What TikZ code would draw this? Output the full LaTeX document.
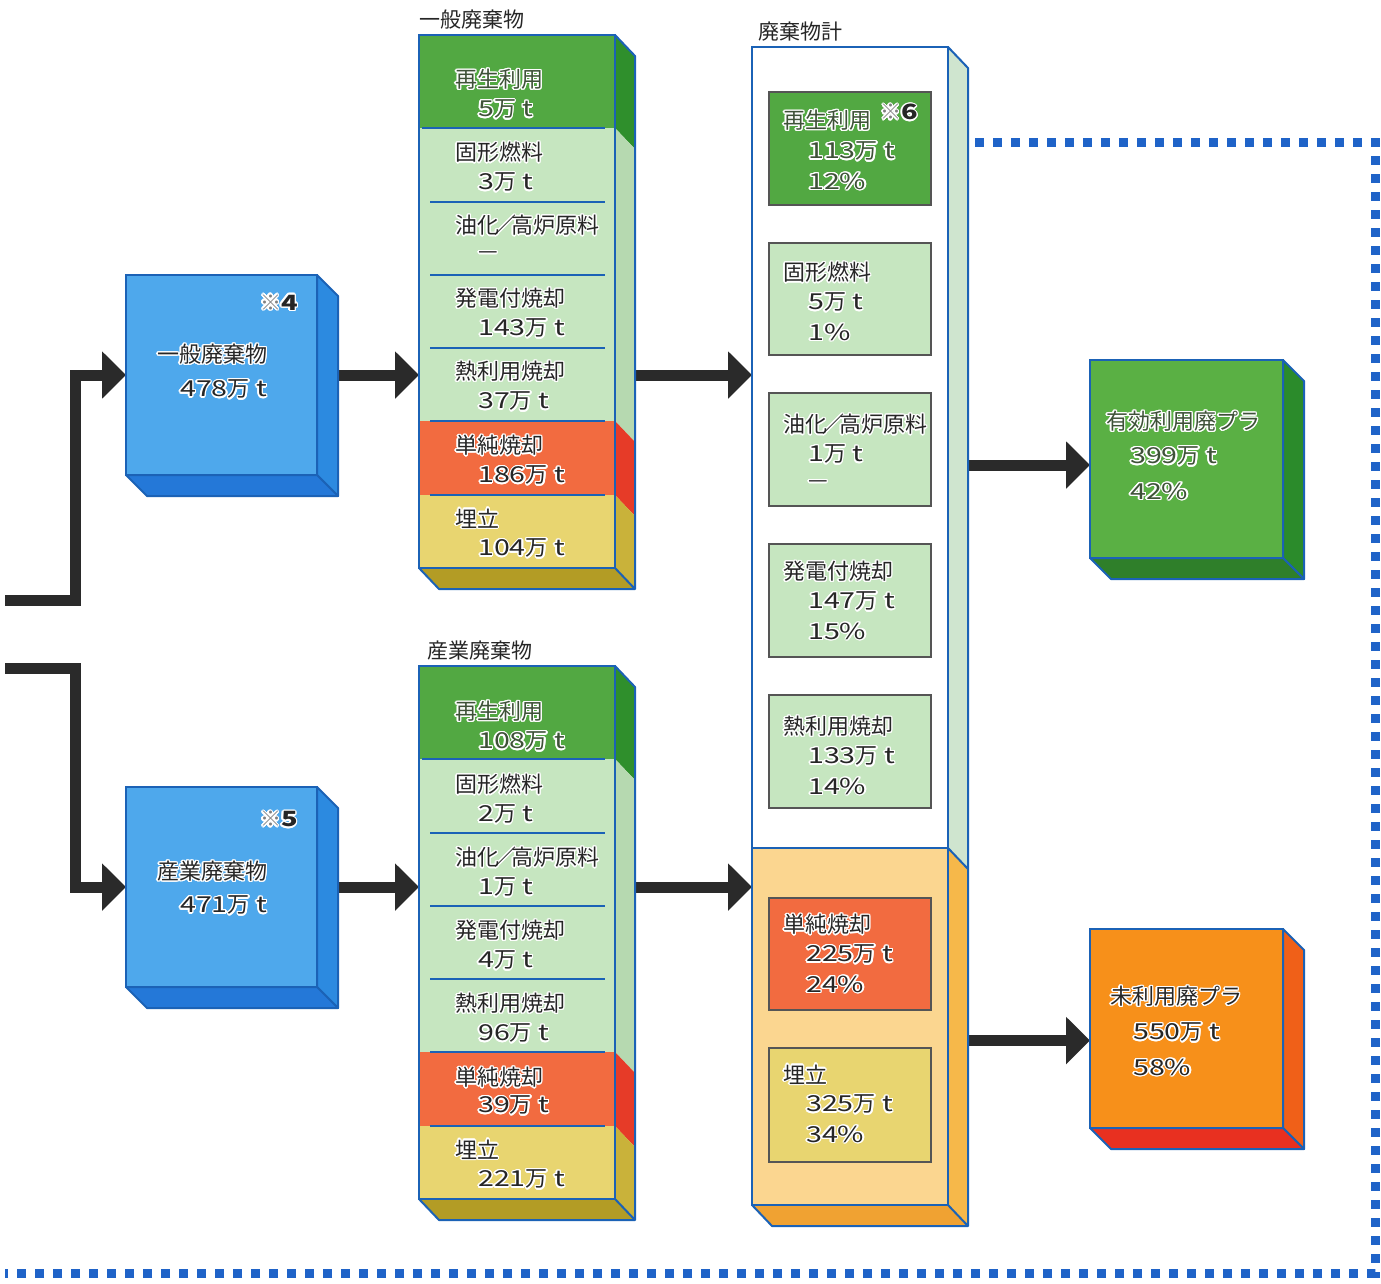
\documentclass[tikz,border=0pt]{standalone}
\usepackage{fontspec}
\setmainfont{Noto Sans CJK JP}
\newfontfamily\widefont{Noto Sans CJK JP}[FakeStretch=1.3]
\usepackage{contour}
\contourlength{1.3pt}
\usetikzlibrary{arrows.meta,calc,backgrounds}
\definecolor{frameblue}{HTML}{1B62B6}
\definecolor{dgreen}{HTML}{52A842}
\definecolor{dgreenS}{HTML}{2F8F2C}
\definecolor{lgreen}{HTML}{C6E6C0}
\definecolor{lgreenS}{HTML}{B6D9B0}
\definecolor{redf}{HTML}{F26B40}
\definecolor{redS}{HTML}{E63B28}
\definecolor{yelf}{HTML}{E8D570}
\definecolor{yelS}{HTML}{C9B23A}
\definecolor{yelB}{HTML}{B39C25}
\definecolor{bluef}{HTML}{4EA8EC}
\definecolor{blueS}{HTML}{2C8AE0}
\definecolor{blueB}{HTML}{2478D8}
\definecolor{totS}{HTML}{CFE5CF}
\definecolor{orgf}{HTML}{FBD690}
\definecolor{orgS}{HTML}{F6B84A}
\definecolor{orgB}{HTML}{F0A232}
\definecolor{effF}{HTML}{5AB044}
\definecolor{effS}{HTML}{2B8B2B}
\definecolor{effB}{HTML}{2F7F2A}
\definecolor{unF}{HTML}{F7901A}
\definecolor{unS}{HTML}{F06018}
\definecolor{unB}{HTML}{E83020}
\definecolor{arrowc}{HTML}{2A2A2A}
\definecolor{dotc}{HTML}{1F63C8}
\definecolor{txtc}{HTML}{262626}
\definecolor{gtxt}{HTML}{3E5238}
\definecolor{inb}{HTML}{555555}
\tikzset{
  frame/.style={draw=frameblue, line width=2pt},
  sep/.style={draw=frameblue, line width=2pt},
  txt/.style={anchor=west, inner sep=0pt, font=\fontsize{22}{24}\selectfont, text=txtc},
  gtx/.style={txt, text=gtxt},
  head/.style={anchor=west, inner sep=0pt, font=\fontsize{21}{24}\selectfont, text=black!85},
  flow/.style={draw=arrowc, line width=11pt, -{Triangle[length=24pt,width=46pt]}},
  inbox/.style={draw=inb, line width=1.2pt, anchor=north west, inner sep=0pt, outer sep=0pt},
  dots/.style={draw=dotc, line width=9pt, dash pattern=on 9pt off 9pt}
}
\newcommand\tx[4][txt]{\node[#1] (#2) at (#3) {\contour{white}{#4}};}
\newcommand\dg[1]{{\widefont #1}}
\newcommand\val[1]{\dg{#1}万\dg{ t}}
\newcommand\pct[1]{\dg{#1\%}}
\newcommand\yuka{油化\kern-5pt／\kern-5pt高炉原料}
% 3D cube: name, x, y, w, h, front, side, bottom
\newcommand\cube[8]{%
  \node[frame, fill=#6, minimum width=#4pt, minimum height=#5pt, anchor=north west, inner sep=0pt, outer sep=0pt] (#1) at (#2,#3) {};
  \filldraw[fill=#7, frame, line join=round] (#1.north east) -- ++(21,21) -- ++(0,#5) -- (#1.south east) -- cycle;
  \filldraw[fill=#8, frame, line join=round] (#1.south west) -- ++(21,21) -- ++(#4,0) -- (#1.south east) -- cycle;
}
\newcommand\colbody[1]{%
  \fill[dgreen] (419,0) rectangle (615,93);
  \fill[lgreen] (419,93) rectangle (615,386);
  \fill[redf] (419,386) rectangle (615,460);
  \fill[yelf] (419,460) rectangle (615,533);
  \fill[dgreenS] (615,0) -- (635,21) -- (635,114) -- (615,93) -- cycle;
  \fill[lgreenS] (615,93) -- (635,114) -- (635,407) -- (615,386) -- cycle;
  \fill[redS] (615,386) -- (635,407) -- (635,481) -- (615,460) -- cycle;
  \fill[yelS] (615,460) -- (635,481) -- (635,554) -- (615,533) -- cycle;
  \fill[yelB] (419,533) -- (439,554) -- (635,554) -- (615,533) -- cycle;
  \draw[sep] (422,93) -- (605,93);
  \foreach \yy in {167,240,313,386,460} {\draw[sep] (430,\yy) -- (605,\yy);}
  \draw[frame, line join=round] (615,0) -- (635,21) -- (635,554) -- (439,554) -- (419,533) (615,533) -- (635,554);
  \node[frame, anchor=north west, minimum width=196pt, minimum height=533pt, inner sep=0pt, outer sep=0pt] (#1) at (419,0) {};
}
\begin{document}
\begin{tikzpicture}[x=1pt, y=-1pt]
\useasboundingbox (0,0) rectangle (1381,1283);

% ---------- left source boxes ----------
\cube{gen}{126}{275}{191}{200}{bluef}{blueS}{blueB}
\cube{ind}{126}{787}{191}{200}{bluef}{blueS}{blueB}
\node[anchor=east, inner sep=0pt, font=\fontsize{21}{22}\selectfont, text=txtc] (n4) at (298,303) {\contour{white}{\textcolor{gray}{※}\textbf{\dg{4}}}};
\tx{genA}{157,355}{一般廃棄物}
\tx{genB}{180,390}{\val{478}}
\node[anchor=east, inner sep=0pt, font=\fontsize{21}{22}\selectfont, text=txtc] (n5) at (298,820) {\contour{white}{\textcolor{gray}{※}\textbf{\dg{5}}}};
\tx{indA}{157,872}{産業廃棄物}
\tx{indB}{180,906}{\val{471}}

% ---------- column 1 ----------
\node[head] (h1) at (419,20) {一般廃棄物};
\begin{scope}[shift={(0,35)}]
  \colbody{col1}
  \tx[gtx]{a1}{455,45}{再生利用}
  \tx[gtx]{a2}{478,75}{\val{5}}
  \tx{a3}{455,118}{固形燃料}
  \tx{a4}{478,148}{\val{3}}
  \tx{a5}{455,191}{\yuka}
  \tx{a6}{478,221}{—}
  \tx{a7}{455,264}{発電付焼却}
  \tx{a8}{478,294}{\val{143}}
  \tx{a9}{455,337}{熱利用焼却}
  \tx{a10}{478,367}{\val{37}}
  \tx{a11}{455,411}{単純焼却}
  \tx{a12}{478,441}{\val{186}}
  \tx{a13}{455,484}{埋立}
  \tx{a14}{478,514}{\val{104}}
\end{scope}

% ---------- column 2 ----------
\node[head] (h2) at (427,651) {産業廃棄物};
\begin{scope}[shift={(0,666)}]
  \colbody{col2}
  \tx[gtx]{b1}{455,46}{再生利用}
  \tx[gtx]{b2}{478,76}{\val{108}}
  \tx{b3}{455,119}{固形燃料}
  \tx{b4}{478,149}{\val{2}}
  \tx{b5}{455,192}{\yuka}
  \tx{b6}{478,222}{\val{1}}
  \tx{b7}{455,265}{発電付焼却}
  \tx{b8}{478,295}{\val{4}}
  \tx{b9}{455,338}{熱利用焼却}
  \tx{b10}{478,368}{\val{96}}
  \tx{b11}{455,412}{単純焼却}
  \tx{b12}{478,440}{\val{39}}
  \tx{b13}{455,484}{埋立}
  \tx{b14}{478,514}{\val{221}}
\end{scope}

% ---------- column 3 (total) ----------
\node[head] (h3) at (758,32) {廃棄物計};
\fill[totS] (948,47) -- (968,68) -- (968,869) -- (948,848) -- cycle;
\fill[orgS] (948,848) -- (968,869) -- (968,1226) -- (948,1205) -- cycle;
\fill[orgB] (752,1205) -- (772,1226) -- (968,1226) -- (948,1205) -- cycle;
\filldraw[fill=white, frame] (752,47) rectangle (948,848);
\filldraw[fill=orgf, frame] (752,848) rectangle (948,1205);
\draw[frame, line join=round] (948,47) -- (968,68) -- (968,1226) -- (772,1226) -- (752,1205) (948,1205) -- (968,1226) (948,848) -- (968,869);
\node[anchor=north west, minimum width=196pt, minimum height=1158pt, inner sep=0pt, outer sep=0pt] (tot) at (752,47) {};

\node[inbox, fill=dgreen, minimum width=162pt, minimum height=113pt] (t1) at (769,92) {};
\node[inbox, fill=lgreen, minimum width=162pt, minimum height=112pt] (t2) at (769,243) {};
\node[inbox, fill=lgreen, minimum width=162pt, minimum height=113pt] (t3) at (769,393) {};
\node[inbox, fill=lgreen, minimum width=162pt, minimum height=113pt] (t4) at (769,544) {};
\node[inbox, fill=lgreen, minimum width=162pt, minimum height=113pt] (t5) at (769,695) {};
\node[inbox, fill=redf, minimum width=162pt, minimum height=112pt] (t6) at (769,898) {};
\node[inbox, fill=yelf, minimum width=162pt, minimum height=114pt] (t7) at (769,1048) {};

\tx[gtx]{c1}{783,121}{再生利用}
\node[anchor=west, inner sep=0pt, font=\fontsize{21}{22}\selectfont, text=txtc] (n6) at (880,113) {\contour{white}{\textcolor{gray}{※}\textbf{\dg{6}}}};
\tx[gtx]{c2}{808,152}{\val{113}}
\tx[gtx]{c3}{808,182}{\pct{12}}
\tx{c4}{783,273}{固形燃料}
\tx{c5}{808,303}{\val{5}}
\tx{c6}{808,333}{\pct{1}}
\tx{c7}{783,425}{\yuka}
\tx{c8}{808,455}{\val{1}}
\tx{c9}{808,485}{—}
\tx{c10}{783,572}{発電付焼却}
\tx{c11}{808,602}{\val{147}}
\tx{c12}{808,632}{\pct{15}}
\tx{c13}{783,727}{熱利用焼却}
\tx{c14}{808,757}{\val{133}}
\tx{c15}{808,787}{\pct{14}}
\tx{c16}{783,925}{単純焼却}
\tx{c17}{806,955}{\val{225}}
\tx{c18}{806,985}{\pct{24}}
\tx{c19}{783,1075}{埋立}
\tx{c20}{806,1105}{\val{325}}
\tx{c21}{806,1135}{\pct{34}}

% ---------- right result boxes ----------
\cube{eff}{1090}{360}{193}{198}{effF}{effS}{effB}
\cube{un}{1090}{929}{193}{199}{unF}{unS}{unB}
\tx[gtx]{e1}{1106,422}{有効利用廃プラ}
\tx[gtx]{e2}{1130,457}{\val{399}}
\tx[gtx]{e3}{1130,492}{\pct{42}}
\tx{u1}{1110,997}{未利用廃プラ}
\tx{u2}{1133,1033}{\val{550}}
\tx{u3}{1133,1068}{\pct{58}}

% ---------- connectors & border (behind) ----------
\coordinate (in1) at (5,600);
\coordinate (k1) at (75,600);
\coordinate (in2) at (5,668);
\coordinate (k2) at (75,668);
\coordinate (genOut) at ($(gen.east)+(21,0)$);
\coordinate (indOut) at ($(ind.east)+(21,0)$);
\coordinate (c1Out) at ($(col1.east)+(20,0)$);
\coordinate (c2Out) at ($(col2.east)+(20,0)$);
\coordinate (totOut) at ($(tot.east)+(20,0)$);
\coordinate (effIn) at ($(eff.west)+(0,6)$);
\coordinate (unIn) at ($(un.west)+(0,12)$);
\coordinate (d1) at (975,142);
\coordinate (d2) at (1375,142);
\coordinate (d3) at (1375,1273);
\coordinate (d4) at (5,1273);
\begin{pgfonlayer}{background}
  \fill[white] (0,0) rectangle (1381,1283);
  \draw[dots] (d1) -- (d2) -- (d3) -- (d4);
  \draw[flow] (in1) -- (k1) |- (gen.west);
  \draw[flow] (in2) -- (k2) |- (ind.west);
  \draw[flow] (genOut) -- (col1.west |- genOut);
  \draw[flow] (indOut) -- (col2.west |- indOut);
  \draw[flow] (c1Out |- genOut) -- (tot.west |- genOut);
  \draw[flow] (c2Out |- indOut) -- (tot.west |- indOut);
  \draw[flow] (totOut |- effIn) -- (effIn);
  \draw[flow] (totOut |- unIn) -- (unIn);
\end{pgfonlayer}
\end{tikzpicture}
\end{document}
